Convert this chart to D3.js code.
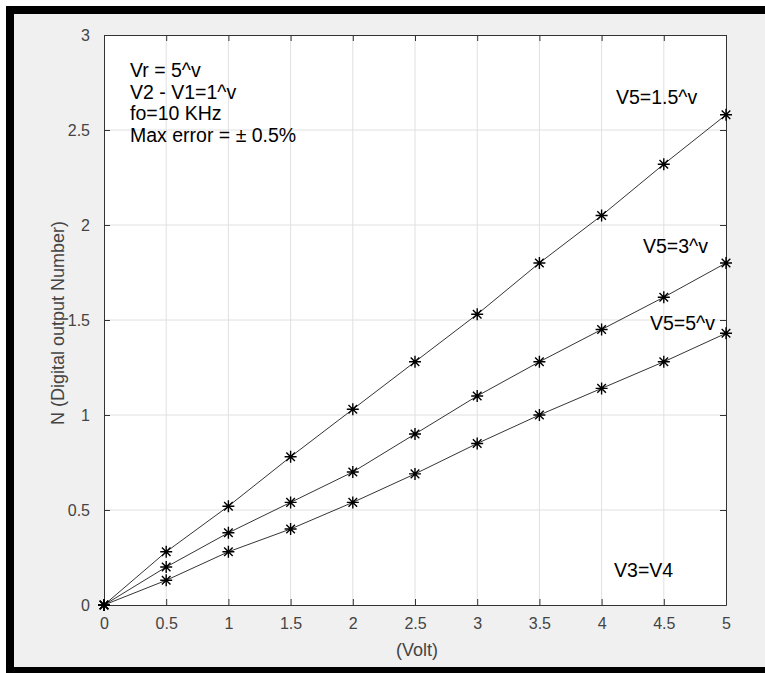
<!DOCTYPE html>
<html>
<head>
<meta charset="utf-8">
<script src="https://cdn.jsdelivr.net/npm/d3@7"></script>
<style>
  body { margin: 0; background: #fff; overflow: hidden; }
  svg { display: block; font-family: "Liberation Sans", Arial, sans-serif; }
</style>
</head>
<body>
<div id="chart"></div>
<script>
// x values (Volt) and the three measured series
const volts = [0, 0.5, 1, 1.5, 2, 2.5, 3, 3.5, 4, 4.5, 5];
const nV15 = [0, 0.28, 0.52, 0.78, 1.03, 1.28, 1.53, 1.80, 2.05, 2.32, 2.58];
const nV3 = [0, 0.20, 0.38, 0.54, 0.70, 0.90, 1.10, 1.28, 1.45, 1.62, 1.80];
const nV5 = [0, 0.13, 0.28, 0.40, 0.54, 0.69, 0.85, 1.00, 1.14, 1.28, 1.43];
const xTicks = [0, 0.5, 1, 1.5, 2, 2.5, 3, 3.5, 4, 4.5, 5];
const yTicks = [0, 0.5, 1, 1.5, 2, 2.5, 3];
const noteLines = ["Vr = 5^v", "V2 - V1=1^v", "fo=10 KHz", "Max error = \u00b1 0.5%"];

let W = 765, H = 673;
let margin = { top: 35, right: 39, bottom: 68, left: 104 },
  width = W - margin.left - margin.right,
  height = H - margin.top - margin.bottom;

let svg = d3.select("#chart").append("svg")
  .attr("width", W)
  .attr("height", H);

// figure background and black frame
svg.append("rect").attr("x", 0).attr("y", 0).attr("width", W).attr("height", H).attr("fill", "#fff");
svg.append("rect").attr("x", 10).attr("y", 10).attr("width", W + 20).attr("height", 661)
  .attr("fill", "#f0f0f0").attr("stroke", "#000").attr("stroke-width", 8);

let x = d3.scaleLinear().domain([0, 5]).range([0, width]);
let y = d3.scaleLinear().domain([0, 3]).range([height, 0]);

let chart = svg.append("g")
  .attr("transform", "translate(" + margin.left + "," + margin.top + ")");

chart.append("rect").attr("width", width).attr("height", height).attr("fill", "#fff");

// grid
chart.selectAll(".vgrid").data(xTicks.slice(1, -1)).enter().append("line")
  .attr("x1", d => x(d)).attr("x2", d => x(d)).attr("y1", 0).attr("y2", height)
  .attr("stroke", "#e0e0e0").attr("stroke-width", 1);
chart.selectAll(".hgrid").data(yTicks.slice(1, -1)).enter().append("line")
  .attr("y1", d => y(d)).attr("y2", d => y(d)).attr("x1", 0).attr("x2", width)
  .attr("stroke", "#e0e0e0").attr("stroke-width", 1);

// axes (ticks pointing inwards, MATLAB style)
function styleAxis(g) {
  g.select(".domain").attr("stroke", "#333");
  g.selectAll(".tick line").attr("stroke", "#333");
  g.selectAll(".tick text").attr("fill", "#444").style("font-size", "16px");
}
let fmt = d3.format("");
chart.append("g").attr("transform", "translate(0," + height + ")")
  .call(d3.axisBottom(x).tickValues(xTicks).tickFormat(fmt).tickSizeInner(-6).tickSizeOuter(0).tickPadding(13))
  .call(styleAxis);
chart.append("g")
  .call(d3.axisTop(x).tickValues(xTicks).tickFormat("").tickSizeInner(-6).tickSizeOuter(0))
  .call(styleAxis);
chart.append("g")
  .call(d3.axisLeft(y).tickValues(yTicks).tickFormat(fmt).tickSizeInner(-6).tickSizeOuter(0).tickPadding(14))
  .call(styleAxis);
chart.append("g").attr("transform", "translate(" + width + ",0)")
  .call(d3.axisRight(y).tickValues(yTicks).tickFormat("").tickSizeInner(-6).tickSizeOuter(0))
  .call(styleAxis);

// series lines and asterisk markers
let series = [nV15, nV3, nV5];
let line = d3.line()
  .x(function (d, i) { return x(volts[i]); })
  .y(function (d) { return y(d); });

let star = "M-6,0L6,0M0,-6L0,6M-4.3,-4.3L4.3,4.3M-4.3,4.3L4.3,-4.3";

series.forEach(function (s) {
  chart.append("path").datum(s)
    .attr("fill", "none").attr("stroke", "#000").attr("stroke-width", 0.8)
    .attr("d", line);
  chart.selectAll(null).data(s).enter().append("path")
    .attr("transform", (d, i) => "translate(" + x(volts[i]) + "," + y(d) + ")")
    .attr("d", star).attr("stroke", "#000").attr("stroke-width", 1.4).attr("fill", "none");
});

// annotations
chart.append("g").selectAll("text").data(noteLines).enter().append("text")
  .attr("x", x(0.209)).attr("y", (d, i) => y(2.779) + i * 21.7)
  .style("font-size", "19.5px").attr("fill", "#000")
  .text(d => d);

let labels = [
  { t: "V5=1.5^v", vx: 4.116, vy: 2.637 },
  { t: "V5=3^v", vx: 4.333, vy: 1.853 },
  { t: "V5=5^v", vx: 4.389, vy: 1.447 },
  { t: "V3=V4", vx: 4.10, vy: 0.147 }
];
chart.selectAll(".lbl").data(labels).enter().append("text")
  .attr("x", d => x(d.vx)).attr("y", d => y(d.vy))
  .style("font-size", "19.5px").attr("fill", "#000")
  .text(d => d.t);

// axis labels
chart.append("text")
  .attr("x", width / 2 + 2).attr("y", height + 51)
  .attr("text-anchor", "middle").style("font-size", "18px").attr("fill", "#444")
  .text("(Volt)");
chart.append("text")
  .attr("transform", "translate(-40," + (height / 2 + 3) + ") rotate(-90)")
  .attr("text-anchor", "middle").style("font-size", "18px").attr("fill", "#444")
  .text("N (Digital output Number)");
</script>
</body>
</html>
